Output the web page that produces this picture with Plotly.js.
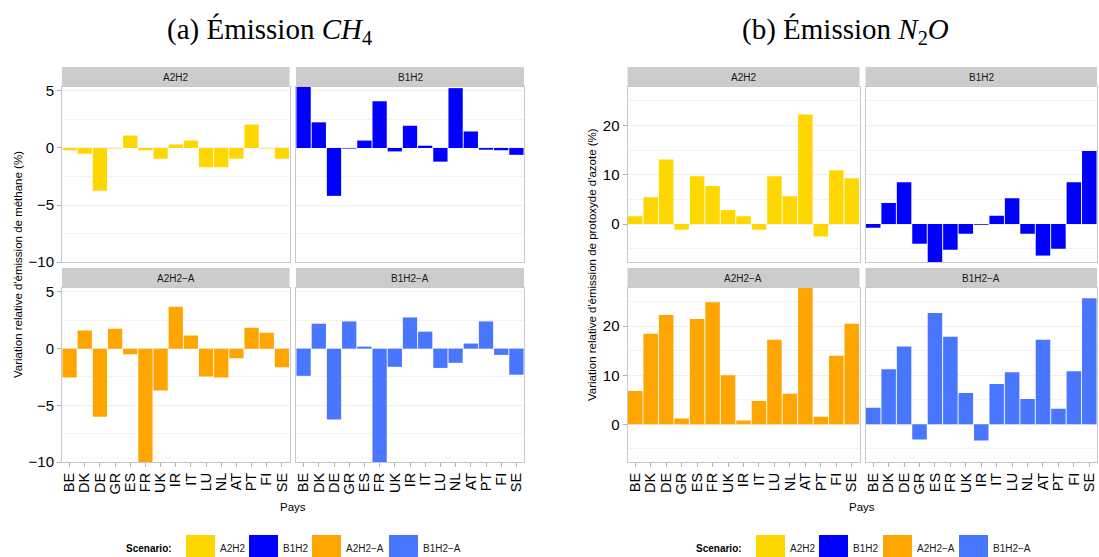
<!DOCTYPE html>
<html>
<head>
<meta charset="utf-8">
<script src="https://cdn.plot.ly/plotly-3.0.1.min.js"></script>
<style>
  html, body { margin: 0; padding: 0; background: #fff; }
  #chart { width: 1099px; height: 557px; }
</style>
</head>
<body>
<div id="chart"></div>
<script>
// ---------- DATA ----------
const countries = ["BE","DK","DE","GR","ES","FR","UK","IR","IT","LU","NL","AT","PT","FI","SE"];
const scenarios = ["A2H2","B1H2","A2H2\u2212A","B1H2\u2212A"];
const scenarioColors = ["#FFD700","#0000FF","#FFA500","#4876FF"];

// Relative variation of methane emissions (%)
const ch4_A2H2  = [-0.2,-0.5,-3.75,-0.05,1.1,-0.2,-0.95,0.3,0.65,-1.7,-1.7,-0.95,2.05,-0.05,-0.95];
const ch4_B1H2  = [5.35,2.25,-4.2,-0.05,0.65,4.1,-0.3,1.95,0.2,-1.2,5.25,1.45,-0.15,-0.2,-0.6];
const ch4_A2H2A = [-2.55,1.6,-6.0,1.75,-0.5,-10.0,-3.7,3.7,1.15,-2.45,-2.55,-0.85,1.85,1.4,-1.65];
const ch4_B1H2A = [-2.4,2.2,-6.25,2.4,0.18,-10.0,-1.6,2.75,1.5,-1.7,-1.25,0.45,2.4,-0.55,-2.3];

// Relative variation of nitrous oxide emissions (%)
const n2o_A2H2  = [1.6,5.45,13.1,-1.15,9.7,7.7,2.85,1.6,-1.15,9.7,5.65,22.2,-2.55,10.9,9.3];
const n2o_B1H2  = [-0.75,4.25,8.5,-4.0,-7.7,-5.2,-1.95,-0.13,1.7,5.25,-1.95,-6.4,-5.0,8.5,14.8];
const n2o_A2H2A = [6.8,18.45,22.3,1.15,21.5,24.9,10.0,0.75,4.75,17.25,6.2,27.8,1.55,14.0,20.5];
const n2o_B1H2A = [3.35,11.2,15.85,-3.1,22.7,17.85,6.4,-3.3,8.2,10.6,5.15,17.25,3.15,10.8,25.7];

const figTitles = ["(a) \u00c9mission <i>CH</i><sub>4</sub>", "(b) \u00c9mission <i>N</i><sub>2</sub><i>O</i>"];
const yTitles = ["Variation relative d'\u00e9mission de m\u00e9thane (%)",
                 "Variation relative d'\u00e9mission de protoxyde d'azote (%)"];
const xTitle = "Pays";
const legendTitle = "Scenario:";

// ---------- LAYOUT ----------
const W = 1099, H = 557;
const px = x => x / W;
const py = y => 1 - y / H;

const figs = [
  { series: [ch4_A2H2, ch4_B1H2, ch4_A2H2A, ch4_B1H2A], dtick: 5, minor: 2.5,
    cols: [[62, 289.5], [296, 524]] , yTitleX: 18, xTitleX: 293, titleX: 269,
    legendBoxes: [186, 249, 312, 389], legendTitleX: 174 },
  { series: [n2o_A2H2, n2o_B1H2, n2o_A2H2A, n2o_B1H2A], dtick: 10, minor: 5,
    cols: [[627.5, 859.5], [865.5, 1097]], yTitleX: 592, xTitleX: 862, titleX: 845,
    legendBoxes: [756, 819, 883, 959], legendTitleX: 744 }
];
const rows = [[87, 262], [288, 462]];
const strips = [[67, 87], [268, 288]];

const FONT = "Liberation Sans, Arial, sans-serif";
const data = [];
const layout = {
  width: W, height: H,
  margin: { l: 0, r: 0, t: 0, b: 0 },
  paper_bgcolor: "#ffffff", plot_bgcolor: "#ffffff",
  showlegend: false,
  bargap: 0.06,
  font: { family: FONT, color: "#000" },
  shapes: [], annotations: []
};

figs.forEach((fig, f) => {
  const all = fig.series.flat();
  const yr = [Math.min(...all), Math.max(...all)];
  for (let r = 0; r < 2; r++) {
    for (let c = 0; c < 2; c++) {
      const s = r * 2 + c;
      const i = f * 4 + s + 1;
      const xa = "xaxis" + (i === 1 ? "" : i), ya = "yaxis" + (i === 1 ? "" : i);
      const xr = "x" + (i === 1 ? "" : i), yrn = "y" + (i === 1 ? "" : i);
      data.push({
        type: "bar", x: countries, y: fig.series[s],
        xaxis: xr, yaxis: yrn,
        marker: { color: scenarioColors[s], line: { width: 0 } },
        hoverinfo: "x+y"
      });
      layout[xa] = {
        domain: [px(fig.cols[c][0]), px(fig.cols[c][1])],
        anchor: yrn, type: "category", range: [-0.5, 14.5],
        tickmode: "array", tickvals: countries, ticktext: countries,
        showgrid: false, zeroline: false,
        showline: true, mirror: true, linecolor: "#c8c8c8", linewidth: 1,
        ticks: r === 1 ? "outside" : "", ticklen: 4, tickcolor: "#b0b0b0",
        showticklabels: r === 1, tickangle: -90,
        tickfont: { family: FONT, size: 14.5, color: "#000" }
      };
      layout[ya] = {
        domain: [py(rows[r][1]), py(rows[r][0])],
        anchor: xr, range: yr, dtick: fig.dtick, tick0: 0,
        showgrid: true, gridcolor: "#efefef", gridwidth: 1,
        minor: { dtick: fig.minor, tick0: 0, showgrid: true, gridcolor: "#f3f3f3", gridwidth: 1 },
        zeroline: false,
        showline: true, mirror: true, linecolor: "#c8c8c8", linewidth: 1,
        ticks: c === 0 ? "outside" : "", ticklen: 4, tickcolor: "#b0b0b0",
        showticklabels: c === 0,
        tickfont: { family: FONT, size: 15, color: "#000" }
      };
      // strip
      layout.shapes.push({
        type: "rect", xref: "paper", yref: "paper",
        x0: px(fig.cols[c][0]), x1: px(fig.cols[c][1]),
        y0: py(strips[r][1]), y1: py(strips[r][0]),
        fillcolor: "#cccccc", line: { width: 0 }, layer: "below"
      });
      layout.annotations.push({
        xref: "paper", yref: "paper",
        x: px((fig.cols[c][0] + fig.cols[c][1]) / 2), y: py((strips[r][0] + strips[r][1]) / 2),
        text: scenarios[s], showarrow: false, xanchor: "center", yanchor: "middle",
        font: { family: FONT, size: 10, color: "#1a1a1a" }
      });
    }
  }
  // figure title
  layout.annotations.push({
    xref: "paper", yref: "paper", x: px(fig.titleX), y: py(31),
    text: figTitles[f], showarrow: false, xanchor: "center", yanchor: "middle",
    font: { family: "Liberation Serif, Times New Roman, serif", size: 29, color: "#000" }
  });
  // y title
  layout.annotations.push({
    xref: "paper", yref: "paper", x: px(fig.yTitleX), y: py(265),
    text: yTitles[f], showarrow: false, textangle: -90, xanchor: "center", yanchor: "middle",
    font: { family: FONT, size: 11.5, color: "#000" }
  });
  // x title
  layout.annotations.push({
    xref: "paper", yref: "paper", x: px(fig.xTitleX), y: py(507),
    text: xTitle, showarrow: false, xanchor: "center", yanchor: "middle",
    font: { family: FONT, size: 11.5, color: "#000" }
  });
  // legend
  layout.annotations.push({
    xref: "paper", yref: "paper", x: px(fig.legendTitleX), y: py(548),
    text: "<b>" + legendTitle + "</b>", showarrow: false, xanchor: "right", yanchor: "middle",
    font: { family: FONT, size: 10, color: "#000" }
  });
  scenarios.forEach((name, k) => {
    const x0 = fig.legendBoxes[k];
    layout.shapes.push({
      type: "rect", xref: "paper", yref: "paper",
      x0: px(x0), x1: px(x0 + 29), y0: py(557), y1: py(535),
      fillcolor: scenarioColors[k], line: { width: 0 }
    });
    layout.annotations.push({
      xref: "paper", yref: "paper", x: px(x0 + 32), y: py(548),
      text: name, showarrow: false, xanchor: "left", yanchor: "middle",
      font: { family: FONT, size: 10, color: "#1a1a1a" }
    });
  });
});

Plotly.newPlot("chart", data, layout, { displayModeBar: false, staticPlot: true });
</script>
</body>
</html>
